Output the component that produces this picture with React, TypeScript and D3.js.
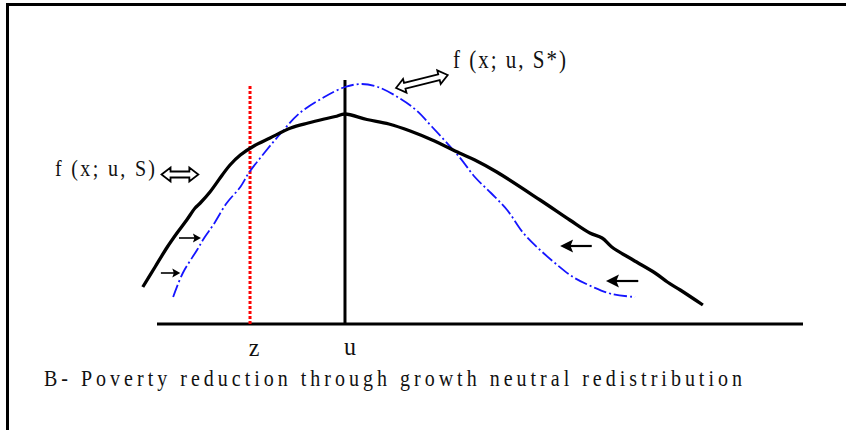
import React from "react";
import * as d3 from "d3";

// income axis (0..100) and density (0..100) in arbitrary units
const baseX: number[] = [-2.2, -0.3, 1.6, 3.1, 4.6, 5.9, 6.7, 8.2, 10.1, 11.3, 12.9, 15.0, 17.5, 20.7, 23.4, 25.9, 27.6, 29.1, 32.5, 35.9, 39.2, 42.6, 46.8, 49.2, 52.6, 59.3, 63.9, 67.0, 68.9, 70.4, 73.7, 77.1, 79.0, 81.0, 84.5];
const baseY: number[] = [14.8, 22.8, 30.8, 36.4, 41.6, 46.4, 48.4, 52.8, 59.6, 63.6, 67.6, 71.2, 74.4, 78.4, 80.4, 82.0, 83.0, 84.0, 81.8, 80.0, 77.2, 73.6, 68.4, 65.6, 60.8, 49.6, 41.6, 36.4, 34.4, 30.8, 25.6, 20.4, 16.8, 13.6, 7.6];

const redistX: number[] = [2.5, 4.0, 6.2, 7.4, 8.7, 10.8, 12.9, 14.2, 16.6, 19.2, 22.1, 25.9, 29.1, 31.7, 34.2, 37.5, 40.1, 42.6, 46.8, 49.2, 51.7, 54.2, 56.7, 59.3, 61.6, 64.4, 67.5, 70.4, 74.0];
const redistY: number[] = [10.8, 20.4, 29.6, 34.8, 39.6, 48.4, 54.8, 60.4, 68.4, 76.4, 84.4, 90.8, 94.8, 96.0, 94.8, 90.4, 85.6, 78.8, 66.8, 58.8, 52.4, 45.6, 36.4, 29.6, 24.4, 18.8, 14.8, 12.0, 10.8];

const zValue = 14.4;
const uValue = 29.1;
const zTop = 95.6;
const uTop = 97.6;
const axisExtent: [number, number] = [0, 100];

// shift arrows: [x0, x1, y]
const rightArrows: [number, number, number][] = [
  [0.6, 3.6, 20.4],
  [3.4, 6.8, 34.4],
];
const leftArrows: [number, number, number][] = [
  [67.3, 62.4, 31.2],
  [74.5, 69.5, 17.2],
];
// double arrows: [x0, y0, x1, y1]
const doubleArrows: [number, number, number, number][] = [
  [0.7, 59.8, 6.4, 59.8],
  [37.0, 94.4, 45.0, 99.6],
];

const labelBase = "f (x; u, S)";
const labelStar = "f (x; u, S*)";
const tickZ = "z";
const tickU = "u";
const caption = "B- Poverty reduction through growth neutral redistribution";

const W = 846;
const H = 430;
const x = d3.scaleLinear().domain([0, 100]).range([157, 803]);
const y = d3.scaleLinear().domain([0, 100]).range([324, 74]);

const serif = "'Liberation Serif', 'Times New Roman', serif";

function doubleArrowPath(x0: number, y0: number, x1: number, y1: number) {
  const len = Math.hypot(x1 - x0, y1 - y0);
  const hl = 9; // head length
  const hh = 7; // head half height
  const sh = 3; // shaft half height
  const pts: [number, number][] = [
    [0, 0],
    [hl, -hh],
    [hl, -sh],
    [len - hl, -sh],
    [len - hl, -hh],
    [len, 0],
    [len - hl, hh],
    [len - hl, sh],
    [hl, sh],
    [hl, hh],
  ];
  const a = Math.atan2(y1 - y0, x1 - x0);
  const c = Math.cos(a), s = Math.sin(a);
  return (
    "M" +
    pts.map(([px, py]) => `${x0 + px * c - py * s},${y0 + px * s + py * c}`).join("L") +
    "Z"
  );
}

function arrow(x0: number, x1: number, yy: number, big: boolean, key: string) {
  const dir = Math.sign(x1 - x0);
  const hl = big ? 13 : 8;
  const hh = big ? 6.5 : 4.5;
  const sw = big ? 2.2 : 1.6;
  return (
    <g key={key}>
      <line x1={x0} y1={yy} x2={x1 - dir * hl * 0.7} y2={yy} stroke="#000" strokeWidth={sw} />
      <path d={`M${x1},${yy}L${x1 - dir * hl},${yy - hh}L${x1 - dir * hl * 0.8},${yy}L${x1 - dir * hl},${yy + hh}Z`} fill="#000" />
    </g>
  );
}

function StretchText(props: { x: number; y: number; size: number; sy: number; len?: number; anchor?: string; children: string }) {
  return (
    <g transform={`translate(${props.x},${props.y}) scale(1,${props.sy})`}>
      <text
        x={0}
        y={0}
        fontFamily={serif}
        fontSize={props.size}
        textLength={props.len}
        lengthAdjust={props.len ? "spacing" : undefined}
        textAnchor={props.anchor || "start"}
        fill="#111"
      >
        {props.children}
      </text>
    </g>
  );
}

export default function App() {
  const line = d3
    .line<[number, number]>()
    .x((d) => x(d[0]))
    .y((d) => y(d[1]))
    .curve(d3.curveCatmullRom.alpha(0.5));
  const basePts = baseX.map((v, i) => [v, baseY[i]] as [number, number]);
  const redistPts = redistX.map((v, i) => [v, redistY[i]] as [number, number]);

  return (
    <svg width={W} height={H} style={{ position: "absolute", left: 0, top: 0, background: "#fff" }}>
      <rect width={W} height={H} fill="#fff" />
      {/* frame */}
      <path d={`M7.5,${H}L7.5,4.5L${W},4.5`} fill="none" stroke="#000" strokeWidth={3} />

      {/* axis */}
      <line x1={x(axisExtent[0])} x2={x(axisExtent[1])} y1={y(0)} y2={y(0)} stroke="#000" strokeWidth={3.2} />
      {/* mean line */}
      <line x1={x(uValue)} x2={x(uValue)} y1={y(0)} y2={y(uTop)} stroke="#000" strokeWidth={3} />
      {/* poverty line */}
      <line x1={x(zValue)} x2={x(zValue)} y1={y(0)} y2={y(zTop)} stroke="#ff0000" strokeWidth={3} strokeDasharray="3,2" />

      {/* redistributed distribution */}
      <path d={line(redistPts) || ""} fill="none" stroke="#1515ff" strokeWidth={1.8} strokeDasharray="13,3,2,3" />
      {/* original distribution */}
      <path d={line(basePts) || ""} fill="none" stroke="#000" strokeWidth={3.3} strokeLinejoin="round" />

      {rightArrows.map((a, i) => arrow(x(a[0]), x(a[1]), y(a[2]), false, "r" + i))}
      {leftArrows.map((a, i) => arrow(x(a[0]), x(a[1]), y(a[2]), true, "l" + i))}
      {doubleArrows.map((a, i) => (
        <path key={"d" + i} d={doubleArrowPath(x(a[0]), y(a[1]), x(a[2]), y(a[3]))} fill="#fff" stroke="#000" strokeWidth={1.8} strokeLinejoin="miter" />
      ))}

      <StretchText x={55} y={176} size={20} sy={1.2} len={100}>{labelBase}</StretchText>
      <StretchText x={453} y={68} size={21} sy={1.2} len={113}>{labelStar}</StretchText>
      <StretchText x={x(zValue) + 4} y={356} size={24} sy={1.05} anchor="middle">{tickZ}</StretchText>
      <StretchText x={x(uValue) + 5} y={355} size={24} sy={1.05} anchor="middle">{tickU}</StretchText>
      <StretchText x={44} y={386} size={20} sy={1.2} len={698}>{caption}</StretchText>
    </svg>
  );
}
